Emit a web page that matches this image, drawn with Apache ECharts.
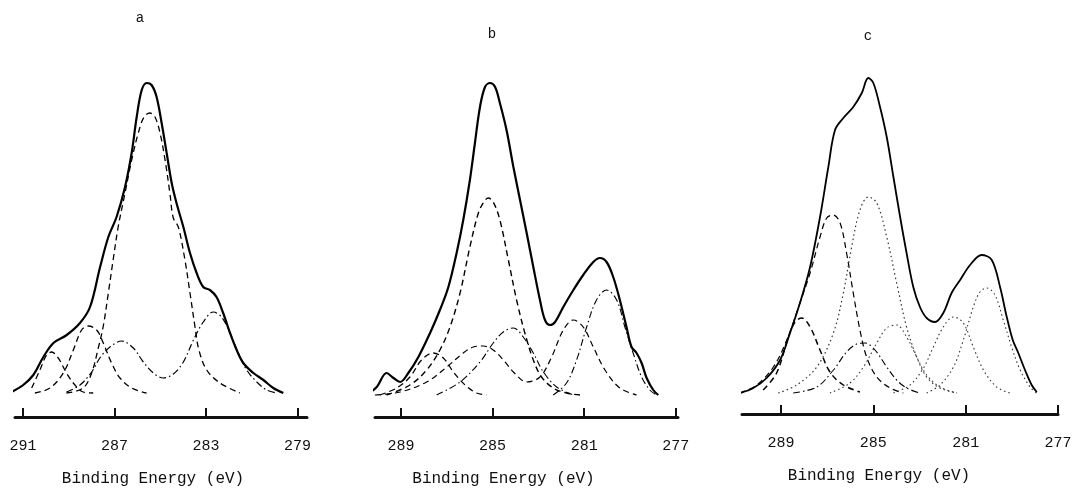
<!DOCTYPE html>
<html>
<head>
<meta charset="utf-8">
<script src="https://cdn.jsdelivr.net/npm/echarts@6/dist/echarts.min.js"></script>
<style>
html,body{margin:0;padding:0;background:#fff;}
#chart{width:1076px;height:493px;}
</style>
</head>
<body>
<div id="chart"></div>
<script>
// ---------- data (Binding energy eV, intensity arb. units) ----------
const panelTitles = ['a', 'b', 'c'];
const axisName = 'Binding Energy (eV)';
const ticksA = [291, 287, 283, 279];
const ticksB = [289, 285, 281, 277];
const ticksC = [289, 285, 281, 277];

// Panel a
const aTotal = [[291.50,1],[290.99,8],[290.55,18],[290.11,36],[289.67,50],[289.09,58],[288.51,70],[288.07,86],[287.63,126],[287.27,156],[286.91,176],[286.54,206],[286.25,240],[286.03,276],[285.81,303],[285.59,310],[285.38,308],[285.16,296],[284.94,270],[284.72,240],[284.50,210],[284.29,190],[283.99,166],[283.70,140],[283.41,120],[283.12,106],[282.83,103],[282.54,96],[282.25,80],[281.95,60],[281.66,43],[281.37,30],[280.93,20],[280.49,13],[280.06,5],[279.62,0]];
const aPeak1 = [[290.62,5],[290.26,23],[289.97,38],[289.75,41],[289.46,35],[289.10,20],[288.73,8],[288.37,1],[287.93,0]];
const aPeak2 = [[290.48,0],[289.82,5],[289.24,20],[288.80,43],[288.44,63],[288.15,67],[287.78,63],[287.49,50],[287.13,30],[286.76,15],[286.25,5],[285.60,0]];
const aPeak3 = [[289.10,0],[288.37,5],[288.00,20],[287.71,45],[287.49,67],[287.27,100],[287.06,133],[286.84,166],[286.54,200],[286.25,233],[285.96,260],[285.71,276],[285.45,280],[285.23,276],[285.01,260],[284.79,233],[284.58,200],[284.43,175],[284.21,166],[283.92,133],[283.70,100],[283.48,66],[283.31,43],[282.97,23],[282.39,10],[281.52,0]];
const aPeak45 = [[289.10,1],[288.51,8],[288.00,21],[287.64,35],[287.20,46],[286.69,52],[286.18,45],[285.74,31],[285.30,20],[284.87,15],[284.43,19],[283.99,31],[283.55,53],[283.12,71],[282.68,81],[282.32,76],[281.95,60],[281.59,40],[281.22,23],[280.78,11],[280.35,3],[279.91,0]];

// Panel b
const bTotal = [[290.50,0],[290.06,8],[289.63,22],[289.33,17],[289.04,13],[288.68,22],[288.24,38],[287.73,62],[287.30,85],[286.93,108],[286.57,142],[286.28,175],[285.99,215],[285.77,252],[285.55,288],[285.33,308],[285.11,312],[284.89,308],[284.68,292],[284.39,265],[284.09,228],[283.80,195],[283.51,162],[283.22,128],[282.93,95],[282.71,75],[282.49,70],[282.27,73],[281.91,88],[281.47,105],[281.04,120],[280.60,133],[280.31,137],[280.02,133],[279.73,118],[279.44,95],[279.15,68],[278.93,48],[278.71,42],[278.49,32],[278.27,17],[277.98,5],[277.76,0]];
const bPeak1 = [[289.92,0],[289.19,7],[288.61,18],[288.10,35],[287.59,42],[287.15,37],[286.71,23],[286.20,10],[285.70,2],[285.26,0]];
const bPeak2 = [[289.63,0],[288.61,10],[287.88,25],[287.30,45],[286.86,68],[286.42,102],[285.99,148],[285.62,182],[285.38,193],[285.19,197],[284.97,193],[284.68,175],[284.31,135],[283.95,95],[283.59,62],[283.22,35],[282.86,18],[282.35,7],[281.77,2],[281.18,0]];
const bPeak35 = [[290.14,0],[289.04,3],[287.88,13],[287.00,28],[286.28,42],[285.84,48],[285.40,49],[284.97,45],[284.53,35],[284.09,23],[283.51,13],[282.93,18],[282.42,38],[281.91,65],[281.47,75],[281.04,68],[280.60,48],[280.09,25],[279.44,7],[278.71,0]];
const bPeak4 = [[287.44,0],[286.42,13],[285.55,33],[284.97,52],[284.53,63],[284.09,67],[283.66,58],[283.22,42],[282.78,23],[282.20,8],[281.47,0]];
const bPeak6 = [[282.35,0],[281.77,12],[281.33,35],[280.89,68],[280.46,95],[280.02,105],[279.58,95],[279.22,68],[278.86,42],[278.49,18],[278.13,5],[277.84,0]];

// Panel c
const cTotal = [[290.78,0],[290.20,5],[289.62,15],[289.04,33],[288.61,60],[288.18,90],[287.74,126],[287.31,176],[286.95,226],[286.66,263],[286.30,275],[285.87,286],[285.50,300],[285.22,315],[285.00,310],[284.71,286],[284.42,256],[284.13,216],[283.84,176],[283.56,140],[283.27,106],[282.98,86],[282.69,75],[282.33,71],[281.97,80],[281.61,100],[281.24,113],[280.81,128],[280.31,138],[279.87,133],[279.51,106],[279.22,76],[278.96,53],[278.72,40],[278.43,23],[278.14,8],[277.92,1]];
const cPeak1 = [[289.77,3],[289.19,20],[288.68,56],[288.39,71],[288.10,75],[287.74,66],[287.31,43],[286.88,21],[286.30,8],[285.58,1]];
const cPeak2 = [[290.78,0],[290.05,8],[289.33,26],[288.75,53],[288.18,90],[287.74,120],[287.31,156],[287.02,175],[286.73,178],[286.44,170],[286.16,140],[285.87,100],[285.58,63],[285.29,36],[284.85,16],[284.28,5],[283.70,0]];
const cPeak3 = [[289.12,0],[288.32,8],[287.45,26],[286.73,60],[286.30,100],[285.94,146],[285.58,183],[285.22,196],[284.85,190],[284.42,156],[283.99,110],[283.56,66],[283.12,36],[282.69,16],[282.11,5],[281.39,0]];
const cPeak4 = [[288.47,0],[287.45,6],[286.73,23],[286.16,41],[285.72,49],[285.36,50],[284.93,43],[284.42,26],[283.99,13],[283.56,5],[282.98,0]];
const cPeak5 = [[286.88,0],[286.01,10],[285.43,26],[284.85,50],[284.42,65],[283.99,68],[283.56,56],[283.12,36],[282.69,18],[282.11,6],[281.39,0]];
const cPeak6 = [[284.13,0],[283.41,8],[282.83,25],[282.40,46],[281.97,66],[281.53,76],[281.10,70],[280.67,46],[280.23,23],[279.66,6],[279.08,0]];
const cPeak7 = [[282.69,0],[282.11,8],[281.53,26],[281.10,53],[280.67,86],[280.38,101],[280.09,105],[279.73,98],[279.37,73],[279.01,46],[278.64,23],[278.21,6],[277.93,0]];

// ---------- styles ----------
const FONT = '"Liberation Mono", "DejaVu Sans Mono", monospace';
const DASH = [6, 4];
const DASHDOT = [7, 3, 1.5, 3];
const DOT = [1.5, 3];

function line(idx, data, type, width, color) {
  return {
    type: 'line', xAxisIndex: idx, yAxisIndex: idx, data: data,
    smooth: 0.35, showSymbol: false, symbol: 'none', clip: false, silent: true,
    lineStyle: { color: color || '#000', width: width, type: type }
  };
}

const grids = [
  { left: 15, width: 292, top: 60, bottom: 76 },
  { left: 375, width: 303, top: 60, bottom: 76 },
  { left: 742, width: 316, top: 60, bottom: 79 }
];
const xRanges = [[278.585, 291.35], [276.9, 290.135], [277.0, 290.69]];
const yRanges = [[-24, 333], [-22, 335], [-21, 333]];
const tickSets = [ticksA, ticksB, ticksC];
const namePads = [[0, 16, 0, 0], [0, 46, 0, 0], [0, 42, 0, 0]];

const xAxes = [0, 1, 2].map(i => ({
  type: 'value', gridIndex: i, inverse: true,
  min: xRanges[i][0], max: xRanges[i][1],
  splitLine: { show: false },
  axisLine: { show: true, onZero: false, lineStyle: { color: '#111', width: 3 } },
  axisTick: { show: true, inside: true, length: 9, customValues: tickSets[i], lineStyle: { color: '#111', width: 2 } },
  axisLabel: { show: true, customValues: tickSets[i], margin: 22, color: '#111', fontSize: 15, fontFamily: FONT },
  name: axisName, nameLocation: 'middle', nameGap: 54,
  nameTextStyle: { color: '#111', fontSize: 16, fontFamily: FONT, padding: namePads[i] }
}));
const yAxes = [0, 1, 2].map(i => ({
  type: 'value', gridIndex: i, min: yRanges[i][0], max: yRanges[i][1], show: false
}));

const series = [
  line(0, aTotal, 'solid', 2.2),
  line(0, aPeak1, DASH, 1.3),
  line(0, aPeak2, DASH, 1.3),
  line(0, aPeak3, DASH, 1.3),
  line(0, aPeak45, DASHDOT, 1.2),
  line(1, bTotal, 'solid', 2.2),
  line(1, bPeak1, DASH, 1.3),
  line(1, bPeak2, DASH, 1.4),
  line(1, bPeak35, DASH, 1.2),
  line(1, bPeak4, DASHDOT, 1.1),
  line(1, bPeak6, DASHDOT, 1.1),
  line(2, cTotal, 'solid', 1.8),
  line(2, cPeak1, DASH, 1.5),
  line(2, cPeak2, DASH, 1.2),
  line(2, cPeak3, DOT, 1.2, '#333'),
  line(2, cPeak4, DASHDOT, 1.1),
  line(2, cPeak5, DOT, 1.1, '#333'),
  line(2, cPeak6, DOT, 1.1, '#333'),
  line(2, cPeak7, DOT, 1.1, '#333')
];

const titlePos = [[140, 18], [492, 34], [868, 36]];
const graphic = panelTitles.map((t, i) => ({
  type: 'text', x: titlePos[i][0], y: titlePos[i][1], silent: true,
  style: { text: t, font: '14px ' + FONT, fill: '#111', align: 'center', verticalAlign: 'middle', textAlign: 'center', textVerticalAlign: 'middle' }
}));

const chart = echarts.init(document.getElementById('chart'), null, { renderer: 'canvas' });
chart.setOption({
  animation: false,
  backgroundColor: '#fff',
  grid: grids,
  xAxis: xAxes,
  yAxis: yAxes,
  series: series,
  graphic: graphic
});
</script>
</body>
</html>
